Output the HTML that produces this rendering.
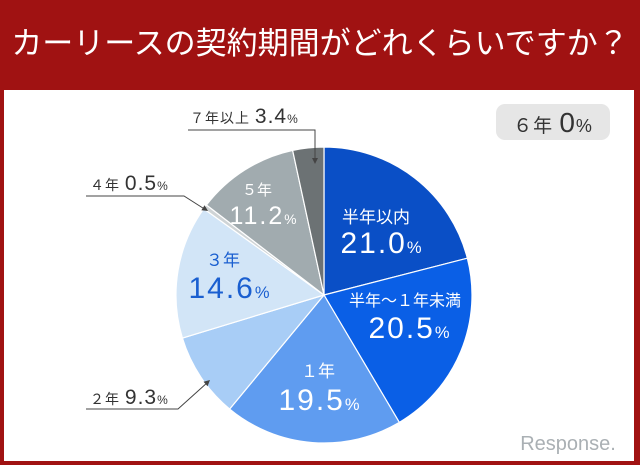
<!DOCTYPE html>
<html><head><meta charset="utf-8">
<style>
html,body{margin:0;padding:0;}
body{width:640px;height:465px;background:#a01212;position:relative;overflow:hidden;font-family:"Liberation Sans","Noto Sans CJK JP",sans-serif;}
#title{position:absolute;left:0;top:0;width:640px;height:88px;color:#fff;font-size:31px;line-height:88px;text-align:center;letter-spacing:0px;}
#panel{position:absolute;left:4px;top:90px;width:630px;height:371px;background:#fff;}
svg{position:absolute;left:0;top:0;}
</style></head><body>
<div id="title">カーリースの契約期間がどれくらいですか？</div>
<div id="panel"></div>
<svg id="chart" width="640" height="465" font-family="Liberation Sans, Noto Sans CJK JP, sans-serif"></svg>
<script>
const categories=["半年以内","半年～１年未満","１年","２年","３年","４年","５年","７年以上"];
const values=[21.0,20.5,19.5,9.3,14.6,0.5,11.2,3.4];
const colors=["#0a4fc6","#0a5fe6","#5f9cf0","#a8cdf6","#d2e5f7","#cfd4d6","#a1abaf","#6c7274"];
const NS="http://www.w3.org/2000/svg";
const svg=document.getElementById('chart');
const cx=324,cy=295,r=148;
const total=values.reduce((a,b)=>a+b,0);
function pt(frac,rad){const a=frac*2*Math.PI-Math.PI/2;return [cx+rad*Math.cos(a),cy+rad*Math.sin(a)];}
let acc=0;
values.forEach((v,i)=>{
  const s=acc/total, e=(acc+v)/total; acc+=v;
  const p0=pt(s,r),p1=pt(e,r);
  const large=(e-s)>0.5?1:0;
  const path=document.createElementNS(NS,'path');
  path.setAttribute('d',`M${cx},${cy}L${p0[0]},${p0[1]}A${r},${r} 0 ${large} 1 ${p1[0]},${p1[1]}Z`);
  path.setAttribute('fill',colors[i]);
  path.setAttribute('stroke','#fff');
  path.setAttribute('stroke-width','1.2');
  
  
  svg.appendChild(path);
});
function txt(x,y,size,fill,str,name,anchor,ls){
  const t=document.createElementNS(NS,'text');
  t.setAttribute('x',x);t.setAttribute('y',y);t.setAttribute('font-size',size);
  t.setAttribute('fill',fill);t.setAttribute('text-anchor',anchor||'middle');
  if(ls)t.setAttribute('letter-spacing',ls);
  t.innerHTML=str;
  
  
  svg.appendChild(t);return t;
}
function pct(v){return v.toFixed(1)+'<tspan font-size="0.55em">%</tspan>';}
txt(376,223,17,'#fff','半年以内','label-cat-0');
txt(382,253,30,'#fff',pct(values[0]),'label-val-0','middle',2);
txt(405,306,16,'#fff','半年～１年未満','label-cat-1');
txt(410,338,30,'#fff',pct(values[1]),'label-val-1','middle',2);
txt(318,377,17,'#fff','１年','label-cat-2');
txt(320,410,30,'#fff',pct(values[2]),'label-val-2','middle',2);
txt(223,266,17,'#1a5fd0','３年','label-cat-4');
txt(230,298,30,'#1a5fd0',pct(values[4]),'label-val-4','middle',2);
txt(257,195,15,'#fff','５年','label-cat-6');
txt(264,224,25,'#fff',pct(values[6]),'label-val-6','middle',2);
txt(190,123,14,'#333','７年以上 <tspan font-size="21">'+values[7].toFixed(1)+'</tspan><tspan font-size="12">%</tspan>','label-7',"start",1);
txt(90,190,14,'#333','４年 <tspan font-size="21">'+values[5].toFixed(1)+'</tspan><tspan font-size="12">%</tspan>','label-5',"start",1);
txt(90,404,14,'#333','２年 <tspan font-size="21">'+values[3].toFixed(1)+'</tspan><tspan font-size="12">%</tspan>','label-3',"start",1);
function line(d,name){const p=document.createElementNS(NS,'path');p.setAttribute('d',d);p.setAttribute('stroke','#444');p.setAttribute('fill','none');p.setAttribute('stroke-width','1');


svg.appendChild(p);}
line('M188,130L315,130L315,162','leader-7');
line('M86,196L184,196L206,210','leader-4');
line('M86,409L178,409L208,382','leader-2');
function arrow(x,y,ang,name){const p=document.createElementNS(NS,'path');p.setAttribute('d','M0,0L-6,-3L-6,3Z');p.setAttribute('fill','#444');p.setAttribute('transform',`translate(${x},${y}) rotate(${ang})`);


svg.appendChild(p);}
arrow(315,164,90,'arrow-7');arrow(208,211,33,'arrow-4');arrow(210,380,-42,'arrow-2');
const rb=document.createElementNS(NS,'rect');rb.setAttribute('x',496);rb.setAttribute('y',104);rb.setAttribute('width',114);rb.setAttribute('height',36);rb.setAttribute('rx',9);rb.setAttribute('fill','#e6e6e6');


svg.appendChild(rb);
txt(553,132,19,'#333','６年 <tspan font-size="28">0</tspan><tspan font-size="18">%</tspan>','six-year-label','middle',1);
txt(568,450,20,'#aab0b4','Response.','watermark');
</script>
</body></html>
